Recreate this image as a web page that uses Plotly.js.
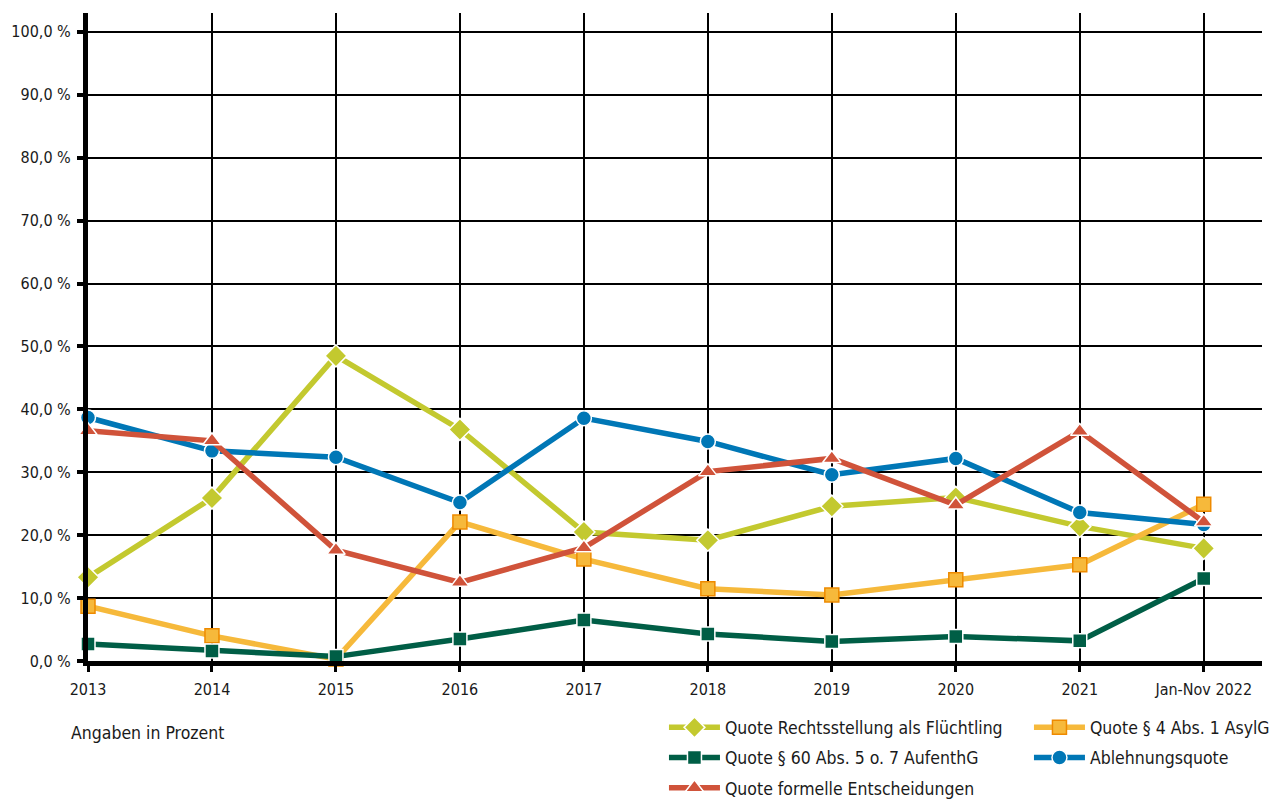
<!DOCTYPE html>
<html>
<head>
<meta charset="utf-8">
<script src="https://cdn.plot.ly/plotly-3.0.1.min.js"></script>
<style>html,body{margin:0;padding:0;background:#fff}#chart{width:1272px;height:799px}</style>
</head>
<body>
<div id="chart"></div>
<script>
const years = ["2013","2014","2015","2016","2017","2018","2019","2020","2021","Jan-Nov 2022"];
const quoteFluechtling = [13.3, 25.9, 48.5, 36.8, 20.5, 19.2, 24.6, 26.0, 21.4, 17.9];
const quoteAsylG4 = [8.7, 4.0, 0.3, 22.1, 16.2, 11.5, 10.5, 12.9, 15.3, 24.9];
const quoteAufenthG60 = [2.7, 1.6, 0.7, 3.5, 6.5, 4.3, 3.1, 3.9, 3.2, 13.1];
const ablehnungsquote = [38.7, 33.4, 32.4, 25.2, 38.6, 34.9, 29.6, 32.2, 23.6, 21.7];
const quoteFormell = [36.6, 35.0, 17.6, 12.5, 18.0, 30.1, 32.2, 24.8, 36.5, 22.1];
const names = ["Quote Rechtsstellung als Flüchtling","Quote § 4 Abs. 1 AsylG","Quote § 60 Abs. 5 o. 7 AufenthG","Ablehnungsquote","Quote formelle Entscheidungen"];
const yTicks = [0,10,20,30,40,50,60,70,80,90,100];
const yTickText = yTicks.map(v => v.toFixed(1).replace('.', ',') + ' %');

const FONT = '"DejaVu Sans Condensed","DejaVu Sans",sans-serif';

function tr(y, name, color, symbol, size, lineColorMarker, legend, group) {
  return {
    x: years, y: y, name: name, type: 'scatter', mode: 'lines+markers',
    cliponaxis: false, legend: legend, legendgroup: group,
    line: {color: color, width: 5.5},
    marker: {symbol: symbol, size: size, color: color, line: {color: lineColorMarker, width: 1.5}}
  };
}

const data = [
  tr(quoteFluechtling, names[0], '#c3c92f', 'diamond', 17, '#ffffff', 'legend', 'a'),
  tr(quoteAsylG4, names[1], '#f6b93b', 'square', 14, '#ee8a00', 'legend2', 'b'),
  tr(quoteAufenthG60, names[2], '#005e46', 'square', 14, '#ffffff', 'legend', 'c'),
  tr(ablehnungsquote, names[3], '#0077b6', 'circle', 15, '#ffffff', 'legend2', 'd'),
  tr(quoteFormell, names[4], '#d0533a', 'triangle-up', 16, '#ffffff', 'legend', 'e')
];

const legendBase = {
  orientation: 'v', xanchor: 'left', yanchor: 'top',
  font: {family: FONT, size: 17.5, color: '#1a1a1a'},
  bgcolor: 'rgba(0,0,0,0)', tracegroupgap: 4.5, itemwidth: 51
};

const layout = {
  width: 1272, height: 799,
  margin: {l: 88, r: 10, t: 13, b: 138, autoexpand: false},
  paper_bgcolor: '#ffffff', plot_bgcolor: '#ffffff',
  font: {family: FONT, size: 16, color: '#1a1a1a'},
  showlegend: true,
  xaxis: {
    type: 'category', range: [0, 9.47], automargin: false,
    showgrid: true, gridcolor: '#000000', gridwidth: 2,
    showline: true, linecolor: '#000000', linewidth: 5,
    ticks: 'outside', ticklen: 6, tickwidth: 3, tickcolor: '#000000',
    ticklabelstandoff: 4,
    tickfont: {family: FONT, size: 16, color: '#1a1a1a'},
    zeroline: false
  },
  yaxis: {
    range: [0, 103], tickmode: 'array', tickvals: yTicks, ticktext: yTickText, automargin: false,
    showgrid: true, gridcolor: '#000000', gridwidth: 2,
    showline: true, linecolor: '#000000', linewidth: 5,
    ticks: 'outside', ticklen: 6, tickwidth: 4, tickcolor: '#000000',
    ticklabelstandoff: 3,
    tickfont: {family: FONT, size: 16, color: '#1a1a1a'},
    zeroline: false
  },
  legend: Object.assign({}, legendBase, {x: 0.4906, y: -0.0748}),
  legend2: Object.assign({}, legendBase, {x: 0.8015, y: -0.0748}),
  annotations: [{
    xref: 'paper', yref: 'paper', x: -0.0165, y: -0.111, xanchor: 'left', yanchor: 'middle',
    text: 'Angaben in Prozent', showarrow: false,
    font: {family: FONT, size: 17.5, color: '#1a1a1a'}
  }]
};

Plotly.newPlot('chart', data, layout, {displayModeBar: false, staticPlot: true});
</script>
</body>
</html>
